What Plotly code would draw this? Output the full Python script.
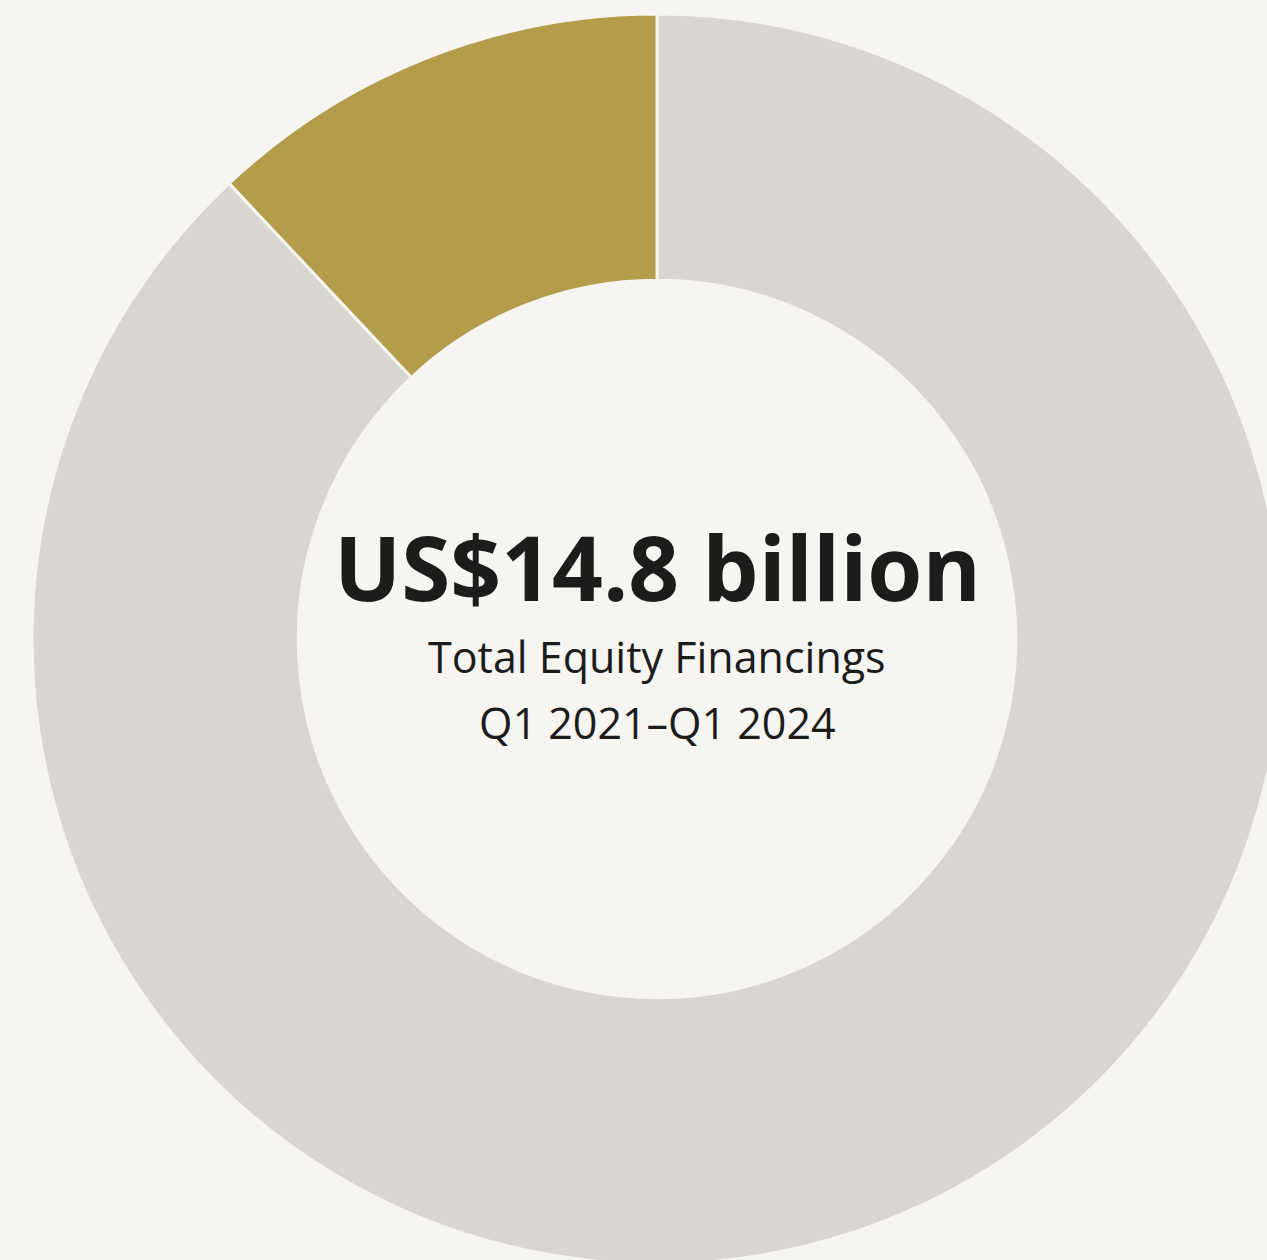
import plotly.graph_objects as go

labels = ["Other", "Highlighted"]
values = [88.0, 12.0]
colors = ["#d9d6cf", "#b39c4a"]

W, H = 1290, 1275
cx, cy, R = 657, 639, 625

fig = go.Figure(go.Pie(
    labels=labels, values=values, hole=0.574, sort=False,
    direction="clockwise", rotation=0,
    marker=dict(colors=colors, line=dict(color="#f6f5f1", width=3)),
    textinfo="none", hoverinfo="skip", showlegend=False,
    domain=dict(x=[(cx - R) / W, (cx + R) / W], y=[(H - cy - R) / H, (H - cy + R) / H]),
))

def ypaper(py):
    return (H - py) / H

fig.add_annotation(x=cx / W, y=ypaper(566), xref="paper", yref="paper", showarrow=False,
                   text="<b>US$14.8 billion</b>", font=dict(family="Open Sans", size=89, color="#1c1c1c"),
                   yanchor="middle")
fig.add_annotation(x=cx / W, y=ypaper(656), xref="paper", yref="paper", showarrow=False,
                   text="Total Equity Financings", font=dict(family="Open Sans", size=43, color="#1c1c1c"),
                   yanchor="middle")
fig.add_annotation(x=cx / W, y=ypaper(722), xref="paper", yref="paper", showarrow=False,
                   text="Q1 2021–Q1 2024", font=dict(family="Open Sans", size=43, color="#1c1c1c"),
                   yanchor="middle")

fig.update_layout(width=W, height=H, margin=dict(l=0, r=0, t=0, b=0),
                  paper_bgcolor="#f6f5f1", plot_bgcolor="#f6f5f1")
fig.write_html("out.html", config={"displayModeBar": False}, post_script=(
    "document.body.style.margin='0';"
    "document.body.style.overflow='hidden';"
    "document.body.style.background='#f6f5f1';"
    "document.documentElement.style.overflow='hidden';"
))
